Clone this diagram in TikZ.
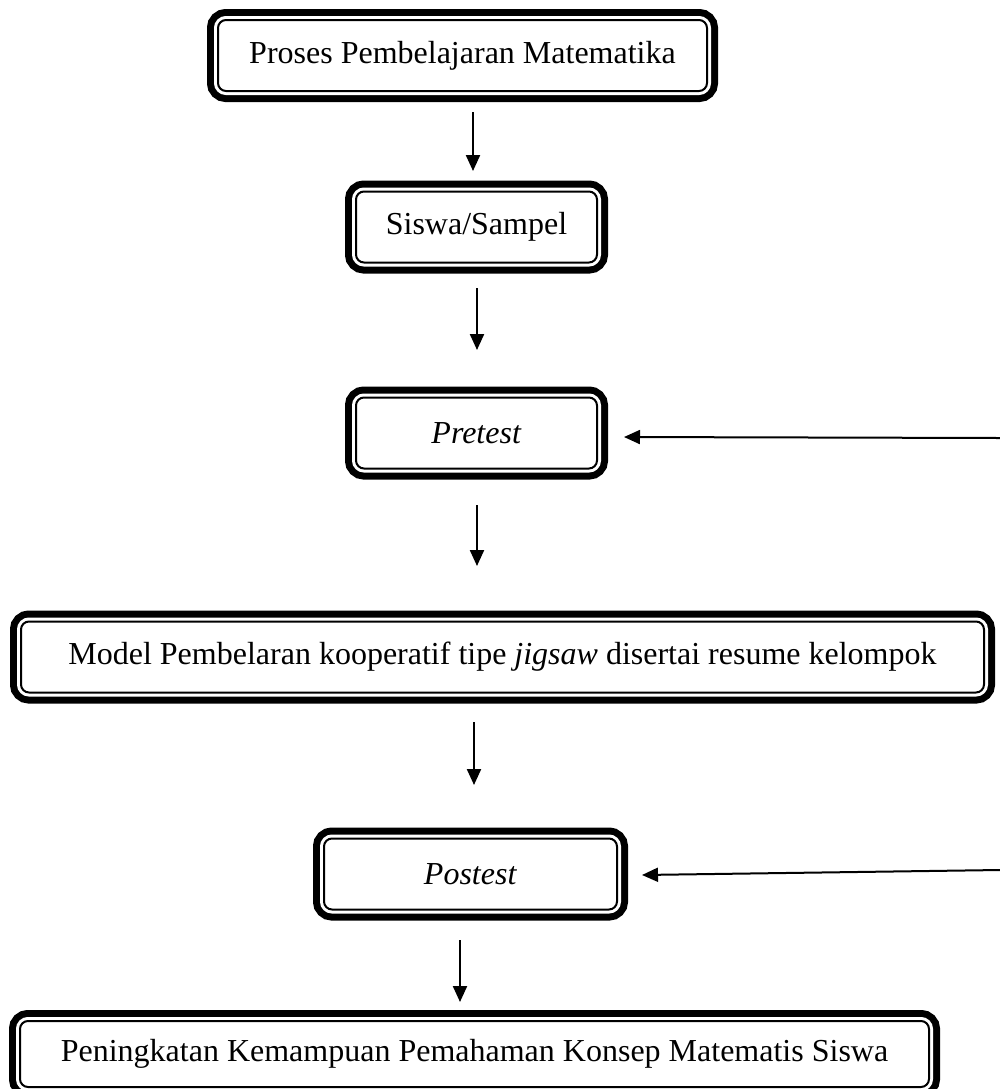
\documentclass[tikz,border=0pt]{standalone}
\usepackage{fontspec}
\setmainfont{Liberation Serif}
\usetikzlibrary{arrows.meta,positioning}
\tikzset{stagebox/.style={draw=black, fill=white, line width=1pt, rounded corners=4pt,
  preaction={draw=black, line width=11pt},
  preaction={draw=white, line width=4pt},
  inner sep=4pt, align=center, minimum height=35.5pt},
  stagearrow/.style={-{Triangle[length=8pt,width=7pt]}, line width=1.1pt},
  sidearrow/.style={-{Triangle[length=8pt,width=7pt]}, line width=1pt},
  stage/.style={font=\fontsize{16pt}{19pt}\selectfont}}

\begin{document}
\begin{tikzpicture}[stage]
    \useasboundingbox (0,0) rectangle (500pt,-544.5pt);
    \node[stagebox, minimum width=244.5pt] (a) at (231.25pt,-27.75pt) {Proses Pembelajaran Matematika};
    \node[stagebox, below=49.25pt of a, xshift=7pt, minimum width=120.5pt] (b) {Siswa/Sampel};
    \node[stagebox, below=66.5pt of b, minimum width=120.5pt] (c) {\textit{Pretest}};
    \node[stagebox, below=75.5pt of c, xshift=13pt, minimum width=481.5pt] (d) {Model Pembelaran kooperatif tipe \textit{jigsaw} disertai resume kelompok};
    \node[stagebox, below=72pt of d, xshift=-16pt, minimum width=146.5pt] (e) {\textit{Postest}};
    \node[stagebox, below=54.75pt of e, xshift=2pt, minimum width=454.5pt, minimum height=33pt] (f) {Peningkatan Kemampuan Pemahaman Konsep Matematis Siswa};
    \coordinate (pretestin) at (500pt,-219pt);
    \coordinate (postestin) at (500pt,-435pt);
    \draw[stagearrow, shorten <=10pt, shorten >=9.75pt] ([xshift=5.25pt]a.south) -- ([xshift=5.25pt]a.south |- b.north);
    \draw[stagearrow, shorten <=12.25pt, shorten >=23.25pt] ([xshift=0.25pt]b.south) -- ([xshift=0.25pt]b.south |- c.north);
    \draw[stagearrow, shorten <=17.75pt, shorten >=27.25pt] ([xshift=0.25pt]c.south) -- ([xshift=0.25pt]c.south |- d.north);
    \draw[stagearrow, shorten <=14.25pt, shorten >=26.25pt] ([xshift=-14.25pt]d.south) -- ([xshift=-14.25pt]d.south |- e.north);
    \draw[stagearrow, shorten <=14.75pt, shorten >=9pt] ([xshift=-5.25pt]e.south) -- ([xshift=-5.25pt]e.south |- f.north);
    \draw[sidearrow] (pretestin) -- ([xshift=13pt,yshift=-2pt]c.east);
    \draw[sidearrow] (postestin) -- ([xshift=12pt,yshift=-0.5pt]e.east);
\end{tikzpicture}
\end{document}
